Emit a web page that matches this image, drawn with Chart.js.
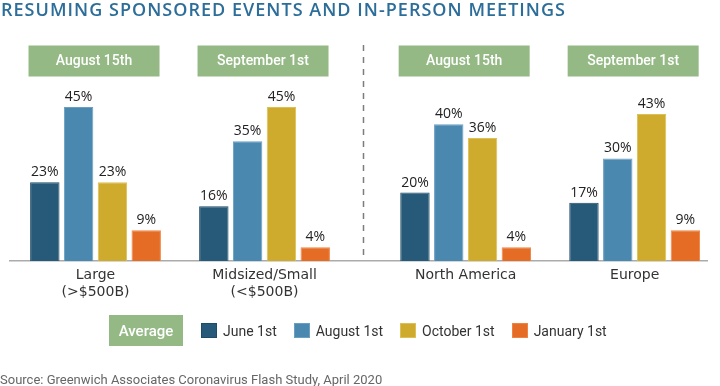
<!DOCTYPE html>
<html>
<head>
<meta charset="utf-8">
<script src="https://cdn.jsdelivr.net/npm/chart.js@4.4.1/dist/chart.umd.min.js"></script>
<style>
  html, body { margin: 0; padding: 0; background: #ffffff; }
  #wrap { position: relative; width: 720px; height: 386px; overflow: hidden; }
  #chart { position: absolute; left: 0; top: 0; }
  #title { position: absolute; left: 1px; top: -1px; font-family: "Open Sans", sans-serif; font-weight: 600; font-size: 18px; line-height: 20px; color: #2c6e99; white-space: nowrap; }
  #legend { position: absolute; left: 109px; top: 315px; height: 31px; display: flex; align-items: center; font-family: Roboto, sans-serif; }
  #legend .avg { width: 74px; height: 31px; background: #94b985; color: #ffffff; font-weight: 500; font-size: 15px; display: flex; align-items: center; justify-content: center; margin-right: 18px; }
  #legend .sw { width: 14px; height: 13px; border: 1px solid; margin-right: 6px; }
  #legend .lt { font-size: 14px; color: #333333; margin-right: 17px; white-space: nowrap; }
  #source { position: absolute; left: 0px; top: 372.5px; font-family: Roboto, sans-serif; font-size: 13px; line-height: 13px; color: #666666; white-space: nowrap; }
</style>
</head>
<body>
<div id="wrap">
  <canvas id="chart" width="720" height="386"></canvas>
  <div id="title"><span id="titleText"></span></div>
  <div id="legend"></div>
  <div id="source"></div>
</div>
<script>
// ---- data ----
const chartTitle = 'RESUMING SPONSORED EVENTS AND IN-PERSON MEETINGS';
const sourceNote = 'Source: Greenwich Associates Coronavirus Flash Study, April 2020';
const categories = [['Large', '(>$500B)'], ['Midsized/Small', '(<$500B)'], 'North America', 'Europe'];
const panelLabels = ['August 15th', 'September 1st', 'August 15th', 'September 1st'];
const averageLabel = 'Average';
const seriesNames = ['June 1st', 'August 1st', 'October 1st', 'January 1st'];
const june1st = [23, 16, 20, 17];
const august1st = [45, 35, 40, 30];
const october1st = [23, 45, 36, 43];
const january1st = [9, 4, 4, 9];

// ---- styling ----
const seriesValues = [june1st, august1st, october1st, january1st];
const fillColors = ['#275a78', '#4a88b0', '#cfab2d', '#e46c25'];
const edgeColors = ['#1e4b67', '#6a9fc3', '#dcbf55', '#f08343'];
const panelGreen = '#94b985';
const panelGap = 0.19; // extra spacing between the two halves
const groupPos = categories.map((_, i) => i + 1 + (i >= 2 ? panelGap : 0));

// title, legend, source as real text
const tt = document.getElementById('titleText');
tt.textContent = chartTitle;
const tw = tt.getBoundingClientRect().width;
tt.style.letterSpacing = ((565 - tw) / chartTitle.length) + 'px';
document.getElementById('source').textContent = sourceNote;
const legend = document.getElementById('legend');
const avg = document.createElement('div');
avg.className = 'avg'; avg.textContent = averageLabel; legend.appendChild(avg);
seriesNames.forEach((n, k) => {
  const sw = document.createElement('div');
  sw.className = 'sw'; sw.style.background = fillColors[k]; sw.style.borderColor = edgeColors[k];
  legend.appendChild(sw);
  const lt = document.createElement('div');
  lt.className = 'lt'; lt.textContent = n; legend.appendChild(lt);
});

const decorPlugin = {
  id: 'decor',
  beforeDatasetsDraw(chart) {
    const ctx = chart.ctx, xs = chart.scales.x;
    const xd = Math.round((xs.getPixelForValue(groupPos[1]) + xs.getPixelForValue(groupPos[2])) / 2) - 1.5;
    ctx.save();
    ctx.strokeStyle = '#7d7d7d';
    ctx.lineWidth = 1.5;
    ctx.setLineDash([6, 6]);
    ctx.beginPath();
    ctx.moveTo(xd, 45);
    ctx.lineTo(xd, chart.chartArea.bottom);
    ctx.stroke();
    ctx.restore();
  },
  afterDatasetsDraw(chart) {
    const ctx = chart.ctx, xs = chart.scales.x;
    ctx.save();
    // panel header boxes
    panelLabels.forEach((lab, i) => {
      const cx = xs.getPixelForValue(groupPos[i]) - 1.5;
      ctx.fillStyle = panelGreen;
      ctx.fillRect(cx - 65.5, 45.5, 131, 31);
      ctx.fillStyle = '#ffffff';
      ctx.font = '500 14px Roboto';
      ctx.textAlign = 'center';
      ctx.textBaseline = 'middle';
      ctx.fillText(lab, cx, 61.5);
    });
    // value labels
    ctx.font = '14px "Open Sans"';
    ctx.fillStyle = '#222222';
    ctx.textAlign = 'center';
    ctx.textBaseline = 'alphabetic';
    chart.data.datasets.forEach((ds, k) => {
      const meta = chart.getDatasetMeta(k);
      meta.data.forEach((bar, i) => {
        ctx.fillText(seriesValues[k][i] + '%', bar.x, bar.y - 6);
      });
    });
    ctx.restore();
  }
};

new Chart(document.getElementById('chart'), {
  type: 'bar',
  data: {
    datasets: seriesNames.map((name, k) => ({
      label: name,
      data: seriesValues[k].map((v, i) => ({ x: groupPos[i], y: v })),
      backgroundColor: fillColors[k],
      borderColor: edgeColors[k],
      borderWidth: 1,
      categoryPercentage: 0.8,
      barPercentage: 0.87
    }))
  },
  options: {
    responsive: false,
    animation: false,
    devicePixelRatio: 1,
    layout: { padding: { top: 90, left: 10, right: 13, bottom: 80 } },
    plugins: { legend: { display: false }, tooltip: { enabled: false } },
    scales: {
      x: {
        type: 'linear',
        min: 0.494,
        max: 4.618,
        bounds: 'data',
        offset: false,
        grid: { display: false, drawTicks: false },
        border: { display: true, color: '#ababab', width: 1.5 },
        ticks: {
          autoSkip: false,
          maxRotation: 0,
          padding: 6,
          color: '#333333',
          font: { family: 'DejaVu Sans', size: 14, lineHeight: 1.2 },
          callback: (v, i) => categories[i]
        },
        afterBuildTicks: (s) => { s.ticks = groupPos.map(v => ({ value: v })); },
        afterFit: (s) => { s.height = 45; }
      },
      y: { display: false, min: 0, max: 50 }
    }
  },
  plugins: [decorPlugin]
});
</script>
</body>
</html>
